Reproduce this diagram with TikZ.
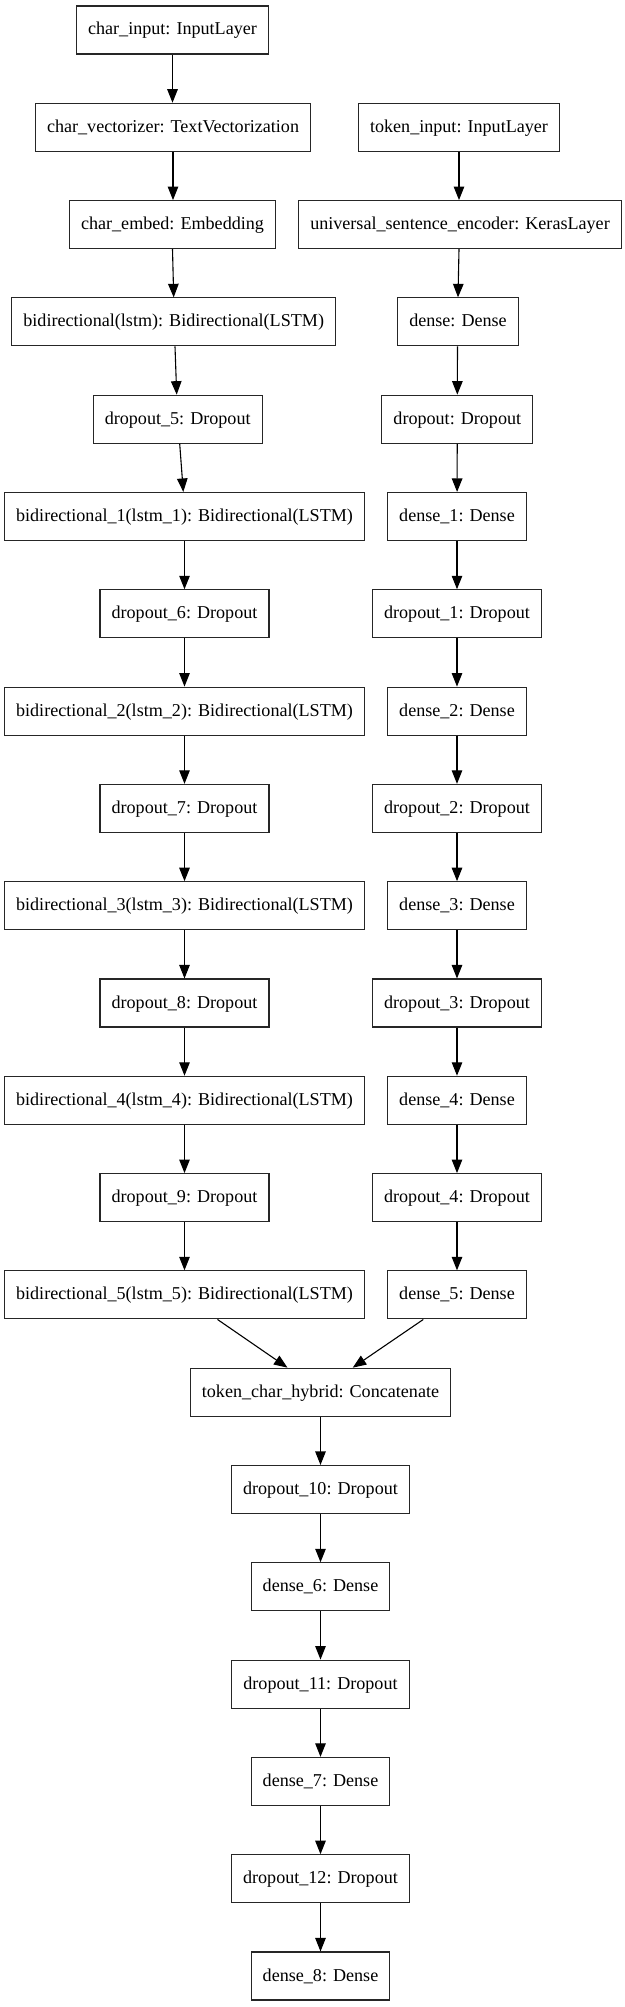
\documentclass[tikz,border=0pt]{standalone}
\usepackage{fontspec}
\setmainfont{Liberation Serif}
\usetikzlibrary{arrows.meta}
\begin{document}
\begin{tikzpicture}[x=1pt,y=-1pt,
  layer/.style={draw=black!85, line width=1.1pt, rectangle, minimum height=48pt,
    inner xsep=11.6pt, inner ysep=0pt, text height=13pt, text depth=3pt,
    font=\fontsize{18.1pt}{20pt}\selectfont},
  link/.style={draw=black, line width=1.1pt, -{Triangle[length=13.5pt,width=10.5pt]}}]
\useasboundingbox (0,0) rectangle (624,2007);
\def\ry#1{30+97.3*#1}
% left column
\node[layer] (ci)  at (172.5,{\ry{0}}) {char\_input: InputLayer};
\node[layer] (cv)  at (173,{\ry{1}}) {char\_vectorizer: TextVectorization};
\node[layer] (ce)  at (172.5,{\ry{2}}) {char\_embed: Embedding};
\node[layer] (b0)  at (173.7,{\ry{3}}) {bidirectional(lstm): Bidirectional(LSTM)};
\node[layer] (d5)  at (177.7,{\ry{4}}) {dropout\_5: Dropout};
\node[layer] (b1)  at (184.5,{\ry{5}}) {bidirectional\_1(lstm\_1): Bidirectional(LSTM)};
\node[layer] (d6)  at (184.5,{\ry{6}}) {dropout\_6: Dropout};
\node[layer] (b2)  at (184.5,{\ry{7}}) {bidirectional\_2(lstm\_2): Bidirectional(LSTM)};
\node[layer] (d7)  at (184.5,{\ry{8}}) {dropout\_7: Dropout};
\node[layer] (b3)  at (184.5,{\ry{9}}) {bidirectional\_3(lstm\_3): Bidirectional(LSTM)};
\node[layer] (d8)  at (184.5,{\ry{10}}) {dropout\_8: Dropout};
\node[layer] (b4)  at (184.5,{\ry{11}}) {bidirectional\_4(lstm\_4): Bidirectional(LSTM)};
\node[layer] (d9)  at (184.5,{\ry{12}}) {dropout\_9: Dropout};
\node[layer] (b5)  at (184.5,{\ry{13}}) {bidirectional\_5(lstm\_5): Bidirectional(LSTM)};
% right column
\node[layer] (ti)  at (459,{\ry{1}}) {token\_input: InputLayer};
\node[layer] (use) at (460,{\ry{2}}) {universal\_sentence\_encoder: KerasLayer};
\node[layer] (de0) at (458,{\ry{3}}) {dense: Dense};
\node[layer] (dr0) at (457.3,{\ry{4}}) {dropout: Dropout};
\node[layer] (de1) at (457,{\ry{5}}) {dense\_1: Dense};
\node[layer] (dr1) at (457,{\ry{6}}) {dropout\_1: Dropout};
\node[layer] (de2) at (457,{\ry{7}}) {dense\_2: Dense};
\node[layer] (dr2) at (457,{\ry{8}}) {dropout\_2: Dropout};
\node[layer] (de3) at (457,{\ry{9}}) {dense\_3: Dense};
\node[layer] (dr3) at (457,{\ry{10}}) {dropout\_3: Dropout};
\node[layer] (de4) at (457,{\ry{11}}) {dense\_4: Dense};
\node[layer] (dr4) at (457,{\ry{12}}) {dropout\_4: Dropout};
\node[layer] (de5) at (457,{\ry{13}}) {dense\_5: Dense};
% merged tail
\node[layer] (tch) at (320.5,{\ry{14}}) {token\_char\_hybrid: Concatenate};
\node[layer] (d10) at (320.5,{\ry{15}}) {dropout\_10: Dropout};
\node[layer] (de6) at (320.5,{\ry{16}}) {dense\_6: Dense};
\node[layer] (d11) at (320.5,{\ry{17}}) {dropout\_11: Dropout};
\node[layer] (de7) at (320.5,{\ry{18}}) {dense\_7: Dense};
\node[layer] (d12) at (320.5,{\ry{19}}) {dropout\_12: Dropout};
\node[layer] (de8) at (320.5,{\ry{20}}) {dense\_8: Dense};
% left edges
\draw[link] (ci.south) -- (cv.north -| ci.south);
\draw[link] (cv.south) -- (ce.north -| cv.south);
\draw[link] (ce.south) -- (b0.north);
\draw[link] ([xshift=1.3pt]b0.south) -- ([xshift=-1pt]d5.north);
\draw[link] ([xshift=2pt]d5.south) -- ([xshift=-1.2pt]b1.north);
\draw[link] (b1) -- (d6);
\draw[link] (d6) -- (b2);
\draw[link] (b2) -- (d7);
\draw[link] (d7) -- (b3);
\draw[link] (b3) -- (d8);
\draw[link] (d8) -- (b4);
\draw[link] (b4) -- (d9);
\draw[link] (d9) -- (b5);
% right edges
\draw[link] (ti.south) -- ([xshift=-1pt]use.north);
\draw[link] ([xshift=-1pt]use.south) -- (de0.north);
\draw[link] ([xshift=-0.5pt]de0.south) -- (dr0.north);
\draw[link] (dr0) -- (de1);
\draw[link] (de1) -- (dr1);
\draw[link] (dr1) -- (de2);
\draw[link] (de2) -- (dr2);
\draw[link] (dr2) -- (de3);
\draw[link] (de3) -- (dr3);
\draw[link] (dr3) -- (de4);
\draw[link] (de4) -- (dr4);
\draw[link] (dr4) -- (de5);
% merge
\draw[link] ([xshift=33pt]b5.south) -- ([xshift=-33pt]tch.north);
\draw[link] ([xshift=-33.7pt]de5.south) -- ([xshift=32.2pt]tch.north);
% tail
\draw[link] (tch) -- (d10);
\draw[link] (d10) -- (de6);
\draw[link] (de6) -- (d11);
\draw[link] (d11) -- (de7);
\draw[link] (de7) -- (d12);
\draw[link] (d12) -- (de8);
\end{tikzpicture}
\end{document}
